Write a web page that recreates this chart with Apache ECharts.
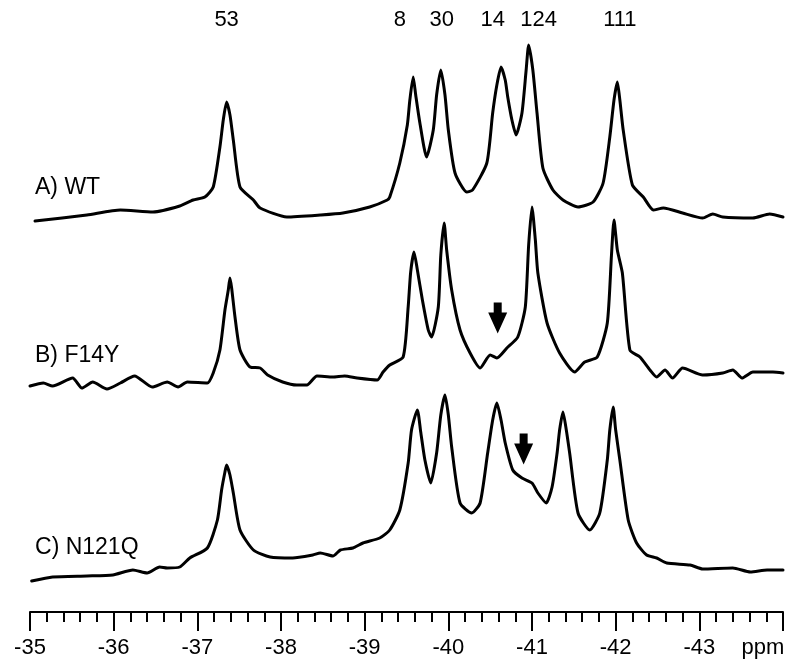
<!DOCTYPE html>
<html>
<head>
<meta charset="utf-8">
<script src="https://cdn.jsdelivr.net/npm/echarts@6/dist/echarts.min.js"></script>
<style>html,body{margin:0;padding:0;background:#fff;}#c{width:800px;height:672px;}</style>
</head>
<body>
<div id="c"></div>
<script>
// ---- data (chemical shift in ppm, intensity in arbitrary units above each trace baseline) ----
const ppmA = [-35.06,-35.68,-36.08,-36.47,-36.79,-36.95,-37.09,-37.19,-37.27,-37.31,-37.35,-37.39,-37.43,-37.51,-37.67,-37.75,-38.07,-38.47,-38.74,-39.06,-39.27,-39.30,-39.42,-39.51,-39.54,-39.58,-39.61,-39.66,-39.74,-39.82,-39.86,-39.91,-39.96,-40.00,-40.08,-40.22,-40.29,-40.46,-40.53,-40.58,-40.63,-40.68,-40.71,-40.76,-40.81,-40.88,-40.93,-40.96,-41.01,-41.06,-41.13,-41.25,-41.37,-41.55,-41.73,-41.85,-41.93,-41.98,-42.02,-42.05,-42.09,-42.20,-42.33,-42.45,-42.57,-42.80,-43.04,-43.16,-43.28,-43.64,-43.84,-44.00];
const intA = [-1,5,10,8,14,20,23,33,73,100,118,105,80,33,20,12,3,5,7,13,20,23,57,95,120,143,125,97,63,90,125,150,125,90,47,28,30,57,107,135,153,140,123,100,85,107,150,175,150,107,52,30,20,13,18,37,83,120,138,120,90,35,23,10,12,7,2,6,3,2,6,3];

const ppmB = [-35.00,-35.16,-35.27,-35.51,-35.62,-35.75,-35.92,-36.08,-36.25,-36.46,-36.64,-36.77,-36.88,-37.12,-37.19,-37.27,-37.33,-37.37,-37.39,-37.41,-37.45,-37.51,-37.63,-37.75,-37.84,-38.02,-38.19,-38.31,-38.43,-38.62,-38.76,-38.91,-39.15,-39.22,-39.30,-39.46,-39.52,-39.55,-39.59,-39.63,-39.69,-39.76,-39.80,-39.88,-39.91,-39.95,-39.98,-40.04,-40.14,-40.26,-40.38,-40.50,-40.58,-40.70,-40.83,-40.92,-40.96,-41.00,-41.04,-41.07,-41.18,-41.33,-41.51,-41.63,-41.78,-41.90,-41.95,-41.98,-42.02,-42.08,-42.17,-42.29,-42.41,-42.49,-42.59,-42.68,-42.80,-43.04,-43.28,-43.40,-43.51,-43.64,-43.88,-44.00];
const intB = [-1,2,-1,7,-3,3,-4,2,9,-2,3,-2,3,2,12,35,75,95,107,97,68,35,18,17,10,3,0,0,9,8,9,7,5,13,20,28,78,113,133,115,85,55,48,78,130,162,135,95,55,32,17,30,27,37,48,78,140,178,145,112,62,32,13,23,28,62,130,165,135,112,35,28,15,8,15,7,17,10,12,15,7,13,13,12];

const ppmC = [-35.02,-35.27,-35.68,-35.99,-36.23,-36.40,-36.55,-36.64,-36.79,-36.91,-37.12,-37.24,-37.29,-37.33,-37.35,-37.39,-37.43,-37.51,-37.67,-37.87,-38.14,-38.38,-38.47,-38.62,-38.71,-38.86,-38.98,-39.18,-39.30,-39.42,-39.52,-39.56,-39.63,-39.67,-39.72,-39.79,-39.86,-39.91,-39.96,-40.00,-40.04,-40.14,-40.28,-40.38,-40.47,-40.53,-40.58,-40.63,-40.68,-40.77,-40.88,-41.00,-41.07,-41.17,-41.24,-41.30,-41.33,-41.37,-41.41,-41.45,-41.55,-41.69,-41.81,-41.90,-41.93,-41.97,-42.00,-42.05,-42.15,-42.25,-42.37,-42.49,-42.61,-42.89,-43.04,-43.40,-43.61,-43.81,-44.00];
const intC = [-1,3,4,5,10,7,13,12,13,22,32,60,90,108,115,105,87,50,30,23,22,25,27,24,30,32,37,42,50,70,117,150,170,148,120,97,127,165,185,165,133,77,67,77,127,160,177,160,137,110,102,97,87,77,93,127,150,168,150,127,67,50,67,120,150,173,150,120,60,37,25,22,17,15,11,12,8,10,10];

const traceNames = ['A) WT', 'B) F14Y', 'C) N121Q'];
const traceOffsets = [392, 227, 32];          // vertical stacking of the three spectra
const traceLabelLevel = [424, 256, 64];
const traceLabelPpm = -35.06;

const peakLabels = ['53', '8', '30', '14', '124', '111'];
const peakLabelPpm = [-37.35, -39.42, -39.92, -40.53, -41.08, -42.05];
const peakLabelLevel = 592;

const arrowPpm = [-40.59, -40.90];
const arrowLevel = [294, 163];

// ---- chart ----
const FONT = '"Liberation Sans", Arial, sans-serif';
const INK = '#000';
function zip(p, v, off) { return p.map((x, i) => [x, v[i] + off]); }

const traces = [[ppmA, intA], [ppmB, intB], [ppmC, intC]];
const lineSeries = traces.map((t, k) => ({
  type: 'line',
  name: traceNames[k],
  data: zip(t[0], t[1], traceOffsets[k]),
  showSymbol: false,
  smooth: 0.2,
  lineStyle: { color: INK, width: 3, join: 'round', cap: 'round' },
  silent: true,
  clip: false
}));

const chart = echarts.init(document.getElementById('c'), null, { renderer: 'canvas' });
chart.setOption({
  animation: false,
  backgroundColor: '#fff',
  grid: { left: 30, right: 17, top: 12, bottom: 60 },
  xAxis: {
    type: 'value',
    min: -44, max: -35, interval: 1,
    inverse: true,
    axisLine: { show: true, lineStyle: { color: INK, width: 2 } },
    axisTick: { show: true, length: 19, lineStyle: { color: INK, width: 2 } },
    minorTick: { show: true, splitNumber: 5, length: 10, lineStyle: { color: INK, width: 2 } },
    splitLine: { show: false },
    axisLabel: {
      margin: 25,
      color: INK,
      fontSize: 22,
      fontFamily: FONT,
      formatter: v => (v === -44 ? '{u|ppm}' : String(v)),
      rich: { u: { fontSize: 22, fontFamily: FONT, color: INK, padding: [0, 40, 0, 0] } }
    }
  },
  yAxis: { type: 'value', min: 0, max: 600, show: false },
  series: lineSeries.concat([
    {
      type: 'scatter',
      symbolSize: 0,
      silent: true,
      itemStyle: { opacity: 1 },
      data: traceNames.map((n, k) => ({ name: n, value: [traceLabelPpm, traceLabelLevel[k]] })),
      label: { show: true, position: 'right', distance: 0, formatter: p => p.name, color: INK, fontSize: 23, fontFamily: FONT }
    },
    {
      type: 'scatter',
      symbolSize: 0,
      silent: true,
      itemStyle: { opacity: 1 },
      data: peakLabels.map((n, k) => ({ name: n, value: [peakLabelPpm[k], peakLabelLevel] })),
      label: { show: true, position: 'inside', formatter: p => p.name, color: INK, fontSize: 22, fontFamily: FONT }
    },
    {
      type: 'scatter',
      silent: true,
      symbol: 'path://M5.5,0 L13.5,0 L13.5,10 L19,10 L9.5,31 L0,10 L5.5,10 Z',
      symbolSize: [19, 31],
      itemStyle: { color: INK, opacity: 1 },
      data: arrowPpm.map((x, k) => [x, arrowLevel[k]])
    }
  ])
});
</script>
</body>
</html>
